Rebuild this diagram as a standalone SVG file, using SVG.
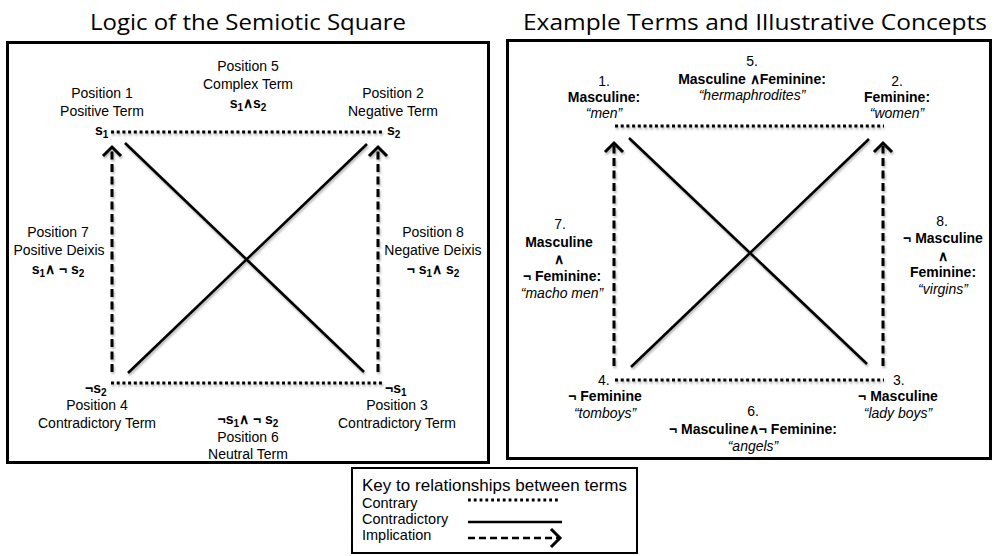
<svg xmlns="http://www.w3.org/2000/svg" width="994" height="556" viewBox="0 0 994 556">
<style>
.t{font-family:"Liberation Sans",Arial,sans-serif;font-size:14px;fill:#000}
.b{font-weight:bold}
.i{font-style:italic}
.m{text-anchor:middle}
.title{font-family:"Open Sans","Liberation Sans",sans-serif;font-size:22px;fill:#000}
.box{fill:#fff;stroke:#000;stroke-width:3}
.dot{stroke:#000;stroke-width:3.2;stroke-dasharray:3 2.7;fill:none}
.sol{stroke:#000;stroke-width:2.6;fill:none}
.dash{stroke:#000;stroke-width:3;stroke-dasharray:8 4.5;fill:none;marker-end:url(#chev)}
.sub{font-size:10px}
.k{font-size:14.5px}
</style>
<defs>
<marker id="chev" markerUnits="userSpaceOnUse" markerWidth="30" markerHeight="30" viewBox="-15 -15 30 30" refX="0" refY="0" orient="auto">
<path d="M-9,-9 L0,0 L-9,9" fill="none" stroke="#000" stroke-width="3" stroke-dasharray="none"/>
</marker>
<filter id="sh" x="-10%" y="-10%" width="120%" height="120%">
<feDropShadow dx="1" dy="2" stdDeviation="1.2" flood-color="#000" flood-opacity="0.3"/>
</filter>
</defs>
<rect width="994" height="556" fill="#fff"/>

<text id="title-left" class="title" x="90" y="30" textLength="316" lengthAdjust="spacingAndGlyphs">Logic of the Semiotic Square</text>
<text id="title-right" class="title" x="523" y="30" textLength="464" lengthAdjust="spacingAndGlyphs">Example Terms and Illustrative Concepts</text>

<g id="frame-left"><rect class="box" x="7.5" y="42.5" width="481" height="420"/></g>
<g id="frame-right"><rect class="box" x="507.5" y="40.5" width="483" height="418"/></g>

<g id="connectors" filter="url(#sh)">
<line class="dot" x1="111" y1="132" x2="382" y2="132"/>
<line class="dot" x1="111" y1="383" x2="382" y2="383"/>
<line class="sol" x1="125" y1="143" x2="364" y2="372"/>
<line class="sol" x1="367" y1="144" x2="128" y2="373"/>
<line class="dash" x1="112" y1="372" x2="112" y2="147"/>
<line class="dash" x1="378" y1="372" x2="378" y2="147"/>
<line class="dot" x1="615" y1="126" x2="884" y2="126"/>
<line class="dot" x1="615" y1="380" x2="884" y2="380"/>
<line class="sol" x1="629" y1="138" x2="867" y2="364"/>
<line class="sol" x1="869" y1="139" x2="631" y2="367"/>
<line class="dash" x1="614" y1="366" x2="614" y2="143"/>
<line class="dash" x1="883" y1="366" x2="883" y2="143"/>
</g>

<g id="left-pos5">
<text class="t m" x="248" y="71">Position 5</text>
<text class="t m" x="248" y="89">Complex Term</text>
<text class="t m b" x="248" y="108">s<tspan class="sub" dy="3">1</tspan><tspan dy="-3">∧s</tspan><tspan class="sub" dy="3">2</tspan></text>
</g>
<g id="left-pos1">
<text class="t m" x="102" y="98">Position 1</text>
<text class="t m" x="102" y="116">Positive Term</text>
<text class="t b" x="95" y="135">s<tspan class="sub" dy="3">1</tspan></text>
</g>
<g id="left-pos2">
<text class="t m" x="393" y="98">Position 2</text>
<text class="t m" x="393" y="116">Negative Term</text>
<text class="t b" x="387" y="135">s<tspan class="sub" dy="3">2</tspan></text>
</g>
<g id="left-pos7">
<text class="t m" x="58" y="237">Position 7</text>
<text class="t m" x="59" y="255">Positive Deixis</text>
<text class="t m b" x="58" y="274">s<tspan class="sub" dy="3">1</tspan><tspan dy="-3">∧ ¬ s</tspan><tspan class="sub" dy="3">2</tspan></text>
</g>
<g id="left-pos8">
<text class="t m" x="433" y="237">Position 8</text>
<text class="t m" x="433" y="255">Negative Deixis</text>
<text class="t m b" x="433" y="274">¬ s<tspan class="sub" dy="3">1</tspan><tspan dy="-3">∧ s</tspan><tspan class="sub" dy="3">2</tspan></text>
</g>
<g id="left-pos4">
<text class="t b" x="85" y="393">¬s<tspan class="sub" dy="3">2</tspan></text>
<text class="t m" x="97" y="410">Position 4</text>
<text class="t m" x="97" y="428">Contradictory Term</text>
</g>
<g id="left-pos3">
<text class="t b" x="385" y="393">¬s<tspan class="sub" dy="3">1</tspan></text>
<text class="t m" x="397" y="410">Position 3</text>
<text class="t m" x="397" y="428">Contradictory Term</text>
</g>
<g id="left-pos6">
<text class="t m b" x="248" y="424">¬s<tspan class="sub" dy="3">1</tspan><tspan dy="-3">∧ ¬ s</tspan><tspan class="sub" dy="3">2</tspan></text>
<text class="t m" x="248" y="442">Position 6</text>
<text class="t m" x="248" y="459">Neutral Term</text>
</g>

<g id="right-pos5">
<text class="t m" x="752" y="66">5.</text>
<text class="t m b" x="752" y="84">Masculine ∧Feminine:</text>
<text class="t m i" x="752" y="100">“hermaphrodites”</text>
</g>
<g id="right-pos1">
<text class="t m" x="604" y="86">1.</text>
<text class="t m b" x="604" y="102">Masculine:</text>
<text class="t m i" x="604" y="118">“men”</text>
</g>
<g id="right-pos2">
<text class="t m" x="897" y="86">2.</text>
<text class="t m b" x="897" y="102">Feminine:</text>
<text class="t m i" x="897" y="118">“women”</text>
</g>
<g id="right-pos7">
<text class="t m" x="560" y="229">7.</text>
<text class="t m b" x="559" y="247">Masculine</text>
<text class="t m b" x="559" y="264">∧</text>
<text class="t m b" x="562" y="281">¬ Feminine:</text>
<text class="t m i" x="562" y="298">“macho men”</text>
</g>
<g id="right-pos8">
<text class="t m" x="942" y="226">8.</text>
<text class="t m b" x="943" y="243">¬ Masculine</text>
<text class="t m b" x="943" y="261">∧</text>
<text class="t m b" x="943" y="277">Feminine:</text>
<text class="t m i" x="943" y="294">“virgins”</text>
</g>
<g id="right-pos4">
<text class="t" x="598" y="385">4.</text>
<text class="t m b" x="605" y="401">¬ Feminine</text>
<text class="t m i" x="605" y="418">“tomboys”</text>
</g>
<g id="right-pos3">
<text class="t" x="893" y="385">3.</text>
<text class="t m b" x="898" y="401">¬ Masculine</text>
<text class="t m i" x="898" y="418">“lady boys”</text>
</g>
<g id="right-pos6">
<text class="t m" x="753" y="416">6.</text>
<text class="t m b" x="753" y="434">¬ Masculine∧¬ Feminine:</text>
<text class="t m i" x="753" y="451">“angels”</text>
</g>

<g id="key">
<rect x="352" y="468" width="285" height="85" fill="#fff" stroke="#000" stroke-width="2"/>
<text class="t" x="362" y="491" style="font-size:17px" textLength="265" lengthAdjust="spacing">Key to relationships between terms</text>
<text class="t k" x="362" y="508">Contrary</text>
<text class="t k" x="362" y="524">Contradictory</text>
<text class="t k" x="362" y="540">Implication</text>
<line x1="468" y1="500" x2="560" y2="500" stroke="#000" stroke-width="2.8" stroke-dasharray="2.8 3"/>
<line x1="468" y1="522" x2="562" y2="522" stroke="#000" stroke-width="2.5"/>
<line x1="468" y1="538" x2="560" y2="538" stroke="#000" stroke-width="2.5" stroke-dasharray="7 4" marker-end="url(#chev)"/>
</g>
</svg>
